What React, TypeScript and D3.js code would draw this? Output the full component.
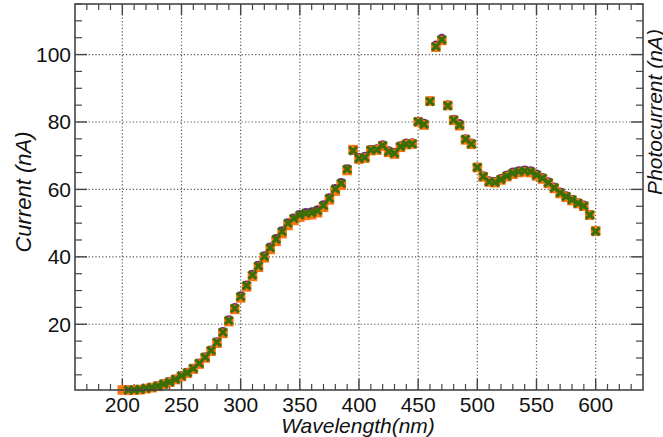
import React from "react";
import * as d3 from "d3";

// wavelength (nm)
const wavelengths = [
  200, 205, 210, 215, 220, 225, 230, 235, 240, 245,
  250, 255, 260, 265, 270, 275, 280, 285, 290, 295,
  300, 305, 310, 315, 320, 325, 330, 335, 340, 345,
  350, 355, 360, 365, 370, 375, 380, 385, 390, 395,
  400, 405, 410, 415, 420, 425, 430, 435, 440, 445,
  450, 455, 460, 465, 470, 475, 480, 485, 490, 495,
  500, 505, 510, 515, 520, 525, 530, 535, 540, 545,
  550, 555, 560, 565, 570, 575, 580, 585, 590, 595, 600,
];

const purpleSeries = [
  null, 0.6, 0.6, 0.8, 1.1, 1.4, 1.8, 2.4, 3.0, 3.8,
  4.8, 5.8, 7.0, 8.6, 10.4, 12.4, 14.9, 17.9, 21.4, 25.0,
  28.5, 31.7, 34.9, 37.6, 40.4, 43.0, 45.5, 47.8, 50.2, 51.6,
  52.6, 53.2, 53.4, 54.0, 55.5, 57.6, 60.3, 62.1, 66.2, 71.5,
  69.5, 69.9, 71.9, 72.1, 73.3, 71.5, 71.0, 73.0, 73.8, 73.9,
  80.3, 79.7, 86.3, 102.9, 104.9, 85.2, 80.9, 79.6, 75.1, 73.8,
  66.7, 64.1, 62.6, 62.4, 63.3, 64.3, 65.2, 65.6, 65.8, 65.6,
  64.6, 63.6, 62.3, 60.8, 59.3, 58.2, 57.1, 56.1, 55.4, 52.6, 47.7,
];

const orangeSeries = [
  0.5, 0.4, 0.5, 0.6, 0.9, 1.2, 1.6, 2.2, 2.8, 3.6,
  4.5, 5.5, 6.7, 8.2, 10.0, 12.0, 14.4, 17.3, 20.8, 24.4,
  27.8, 31.1, 34.2, 36.9, 39.7, 42.2, 44.6, 46.9, 49.3, 50.8,
  51.8, 52.3, 52.5, 53.1, 54.7, 56.9, 59.5, 61.3, 65.6, 71.8,
  69.0, 69.3, 71.5, 71.7, 72.8, 71.0, 70.5, 72.5, 73.3, 73.5,
  80.0, 79.1, 86.2, 102.2, 104.2, 84.9, 80.5, 78.9, 74.7, 73.4,
  66.5, 63.7, 62.2, 62.0, 62.8, 63.8, 64.5, 65.0, 65.2, 65.0,
  64.0, 63.1, 61.8, 60.3, 58.8, 57.7, 56.7, 55.8, 55.0, 52.4, 47.7,
];

const greenSeries = [
  null, 0.5, 0.5, 0.7, 1.0, 1.3, 1.7, 2.3, 2.9, 3.7,
  4.7, 5.6, 6.9, 8.4, 10.2, 12.2, 14.7, 17.6, 21.1, 24.7,
  28.2, 31.5, 34.6, 37.3, 40.1, 42.7, 45.2, 47.5, 50.0, 51.4,
  52.4, 52.9, 53.1, 53.7, 55.2, 57.4, 60.1, 61.8, 66.0, 71.5,
  69.2, 69.5, 71.7, 71.8, 73.0, 71.2, 70.7, 72.7, 73.4, 73.5,
  80.1, 79.3, 86.1, 102.4, 104.4, 84.8, 80.6, 79.1, 74.9, 73.5,
  66.5, 63.8, 62.3, 62.1, 63.0, 64.0, 64.8, 65.3, 65.5, 65.3,
  64.3, 63.3, 62.0, 60.5, 59.0, 57.9, 56.9, 55.9, 55.1, 52.4, 47.5,
];

const xMajorTicks = [200, 250, 300, 350, 400, 450, 500, 550, 600];
const yMajorTicks = [20, 40, 60, 80, 100];

const W = 663;
const H = 437;
const left = 75;
const right = 643;
const top = 4;
const bottom = 390;

const App = () => {
  const x = d3.scaleLinear().domain([160, 640]).range([left, right]);
  const y = d3.scaleLinear().domain([0.5, 115]).range([bottom, top]);

  const xMinor = d3.range(170, 640, 10).filter((v) => v % 50 !== 0);
  const yMinor = d3.range(5, 116, 5).filter((v) => v % 20 !== 0);

  const frame = "#444";
  const font = "'Liberation Sans', Arial, sans-serif";

  const pts = (vals: (number | null)[]) =>
    wavelengths
      .map((w, i) => ({ w, v: vals[i] }))
      .filter((d) => d.v !== null) as { w: number; v: number }[];

  const cross = (cx: number, cy: number, s: number) =>
    `M${cx - s},${cy - s}L${cx + s},${cy + s}M${cx - s},${cy + s}L${cx + s},${cy - s}`;

  return (
    <svg
      width={W}
      height={H}
      style={{ position: "absolute", left: 0, top: 0, background: "#fff" }}
    >
      {/* grid */}
      {xMajorTicks.map((t) => (
        <line
          key={"gx" + t}
          x1={x(t)}
          x2={x(t)}
          y1={top}
          y2={bottom}
          stroke="#555"
          strokeWidth={1.2}
          strokeDasharray="1.2,2.2"
        />
      ))}
      {yMajorTicks.map((t) => (
        <line
          key={"gy" + t}
          x1={left}
          x2={right}
          y1={y(t)}
          y2={y(t)}
          stroke="#555"
          strokeWidth={1.2}
          strokeDasharray="1.2,2.2"
        />
      ))}

      {/* ticks, all four sides, pointing inward */}
      {xMinor.map((t) => (
        <g key={"xm" + t} stroke={frame} strokeWidth={1.2}>
          <line x1={x(t)} x2={x(t)} y1={bottom} y2={bottom - 6} />
          <line x1={x(t)} x2={x(t)} y1={top} y2={top + 6} />
        </g>
      ))}
      {xMajorTicks.map((t) => (
        <g key={"xM" + t} stroke={frame} strokeWidth={1.4}>
          <line x1={x(t)} x2={x(t)} y1={bottom} y2={bottom - 11} />
          <line x1={x(t)} x2={x(t)} y1={top} y2={top + 11} />
        </g>
      ))}
      {yMinor.map((t) => (
        <g key={"ym" + t} stroke={frame} strokeWidth={1.2}>
          <line x1={left} x2={left + 7} y1={y(t)} y2={y(t)} />
          <line x1={right} x2={right - 7} y1={y(t)} y2={y(t)} />
        </g>
      ))}
      {yMajorTicks.map((t) => (
        <g key={"yM" + t} stroke={frame} strokeWidth={1.4}>
          <line x1={left} x2={left + 12} y1={y(t)} y2={y(t)} />
          <line x1={right} x2={right - 12} y1={y(t)} y2={y(t)} />
        </g>
      ))}

      {/* markers */}
      {pts(purpleSeries).map((d) => (
        <circle key={"p" + d.w} cx={x(d.w)} cy={y(d.v)} r={4.3} fill="#7a1a8c" />
      ))}
      {pts(orangeSeries).map((d) => (
        <rect
          key={"o" + d.w}
          x={x(d.w) - 4.8}
          y={y(d.v) - 4.8}
          width={9.6}
          height={9.6}
          fill="#ff7412"
        />
      ))}
      {pts(greenSeries).map((d) => (
        <path
          key={"g" + d.w}
          d={cross(x(d.w), y(d.v), 3.9)}
          stroke="#3a6e06"
          strokeWidth={3.1}
          fill="none"
        />
      ))}

      {/* frame */}
      <rect
        x={left}
        y={top}
        width={right - left}
        height={bottom - top}
        fill="none"
        stroke={frame}
        strokeWidth={1.6}
      />

      {/* tick labels */}
      {xMajorTicks.map((t) => (
        <text
          key={"xl" + t}
          x={x(t)}
          y={412}
          textAnchor="middle"
          fontFamily={font}
          fontSize={21}
          fill="#111"
        >
          {t}
        </text>
      ))}
      {yMajorTicks.map((t) => (
        <text
          key={"yl" + t}
          x={71}
          y={y(t) + 7.5}
          textAnchor="end"
          fontFamily={font}
          fontSize={21}
          fill="#111"
        >
          {t}
        </text>
      ))}

      {/* axis titles */}
      <text
        x={358}
        y={433}
        textAnchor="middle"
        fontFamily={font}
        fontSize={21}
        fontStyle="italic"
        fill="#111"
      >
        Wavelength(nm)
      </text>
      <text
        transform={`translate(31,192) rotate(-90)`}
        textAnchor="middle"
        fontFamily={font}
        fontSize={22}
        fontStyle="italic"
        fill="#111"
      >
        Current (nA)
      </text>
      <text
        transform={`translate(662,112) rotate(-90)`}
        textAnchor="middle"
        fontFamily={font}
        fontSize={21}
        fontStyle="italic"
        fill="#111"
      >
        Photocurrent (nA)
      </text>
    </svg>
  );
};

export default App;
